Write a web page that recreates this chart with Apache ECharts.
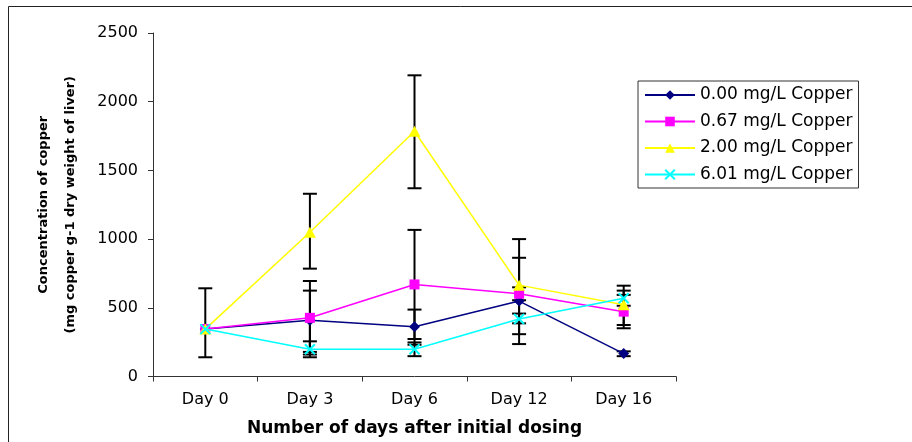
<!DOCTYPE html>
<html><head><meta charset="utf-8">
<script src="https://cdn.jsdelivr.net/npm/echarts@6/dist/echarts.min.js"></script>
<style>html,body{margin:0;padding:0;background:#fff}#c{width:912px;height:442px}</style>
</head><body><div id="c"></div>
<script>
const categories = ['Day 0', 'Day 3', 'Day 6', 'Day 12', 'Day 16'];
const seriesNames = ['0.00 mg/L Copper', '0.67 mg/L Copper', '2.00 mg/L Copper', '6.01 mg/L Copper'];

const cu000 = [345, 410, 362, 549, 167];
const cu067 = [345, 427, 670, 602, 472];
const cu200 = [345, 1050, 1785, 665, 523];
const cu601 = [345, 198, 198, 418, 570];

const cu000Low  = [140, 179, 231, 236, 148];
const cu000High = [642, 625, 487, 864, 183];
const cu067Low  = [null, 160, 273, 555, 351];
const cu067High = [null, 695, 1067, 649, 594];
const cu200Low  = [null, 785, 1370, 308, 375];
const cu200High = [null, 1330, 2192, 1000, 661];
const cu601Low  = [null, 140, 148, 387, 515];
const cu601High = [null, 256, 248, 458, 625];

const yMin = 0, yMax = 2500, yStep = 500;

const colors = ['#000080', '#FF00FF', '#FFFF00', '#00FFFF'];
const values = [cu000, cu067, cu200, cu601];
const lows = [cu000Low, cu067Low, cu200Low, cu601Low];
const highs = [cu000High, cu067High, cu200High, cu601High];
const symbols = ['diamond', 'rect', 'triangle', 'path://M0,0L10,10M0,10L10,0'];
const symbolSizes = [[11, 11], 10, [12, 11], 10];

const errData = [];
lows.forEach((lo, s) => {
  lo.forEach((v, i) => {
    if (v != null && highs[s][i] != null) errData.push([i, v, highs[s][i]]);
  });
});

function renderErr(params, api) {
  const x = api.value(0);
  const pLo = api.coord([x, api.value(1)]);
  const pHi = api.coord([x, api.value(2)]);
  const hw = 7;
  const style = { stroke: '#000', lineWidth: 2 };
  return {
    type: 'group',
    children: [
      { type: 'line', shape: { x1: pLo[0], y1: pLo[1], x2: pHi[0], y2: pHi[1] }, style: style },
      { type: 'line', shape: { x1: pLo[0] - hw, y1: pLo[1], x2: pLo[0] + hw, y2: pLo[1] }, style: style },
      { type: 'line', shape: { x1: pHi[0] - hw, y1: pHi[1], x2: pHi[0] + hw, y2: pHi[1] }, style: style }
    ]
  };
}

const lineSeries = seriesNames.map((name, s) => ({
  name: name,
  type: 'line',
  data: values[s],
  symbol: symbols[s],
  symbolSize: symbolSizes[s],
  z: 3 + s,
  lineStyle: { color: colors[s], width: 1.5 },
  itemStyle: s === 3
    ? { color: colors[s], borderColor: colors[s], borderWidth: 2 }
    : { color: colors[s], borderWidth: 0 },
  animation: false
}));

const chart = echarts.init(document.getElementById('c'), null, { renderer: 'canvas' });
chart.setOption({
  backgroundColor: '#fff',
  animation: false,
  graphic: [{
    type: 'rect',
    shape: { x: 8.5, y: 6.5, width: 940, height: 460 },
    style: { fill: 'none', stroke: '#222', lineWidth: 1 },
    silent: true
  }],
  grid: { left: 153, right: 236, top: 33, bottom: 60 },
  legend: {
    orient: 'vertical',
    left: 638, top: 81,
    padding: [5.5, 6, 5, 6],
    itemWidth: 50, itemHeight: 12, itemGap: 9.5,
    borderColor: '#333', borderWidth: 1,
    textStyle: { fontFamily: 'DejaVu Sans', fontSize: 17, color: '#000', lineHeight: 17 },
    data: seriesNames
  },
  xAxis: {
    type: 'category',
    data: categories,
    boundaryGap: true,
    name: 'Number of days after initial dosing',
    nameLocation: 'middle',
    nameGap: 52,
    nameTextStyle: { fontFamily: 'DejaVu Sans', fontWeight: 'bold', fontSize: 17, color: '#000', verticalAlign: 'middle' },
    axisLine: { lineStyle: { color: '#333', width: 1 } },
    axisTick: { show: true, length: 5, lineStyle: { color: '#333' } },
    axisLabel: { fontFamily: 'DejaVu Sans', fontSize: 16, color: '#000', margin: 15 },
    splitLine: { show: false }
  },
  yAxis: {
    type: 'value',
    min: yMin, max: yMax, interval: yStep,
    name: 'Concentration of copper\n(mg copper g-1 dry weight of liver)',
    nameLocation: 'middle',
    nameGap: 96,
    nameTextStyle: { fontFamily: 'DejaVu Sans', fontWeight: 'bold', fontSize: 13, color: '#000', lineHeight: 27, align: 'center', verticalAlign: 'middle' },
    axisLine: { show: true, lineStyle: { color: '#333', width: 1 } },
    axisTick: { show: true, length: 5, lineStyle: { color: '#333' } },
    axisLabel: { fontFamily: 'DejaVu Sans', fontSize: 16, color: '#000', margin: 15, formatter: v => String(v) },
    splitLine: { show: false }
  },
  series: [{
    type: 'custom',
    name: 'errors',
    renderItem: renderErr,
    data: errData,
    encode: { x: 0, y: [1, 2] },
    z: 2,
    silent: true
  }].concat(lineSeries)
});
</script>
</body></html>
